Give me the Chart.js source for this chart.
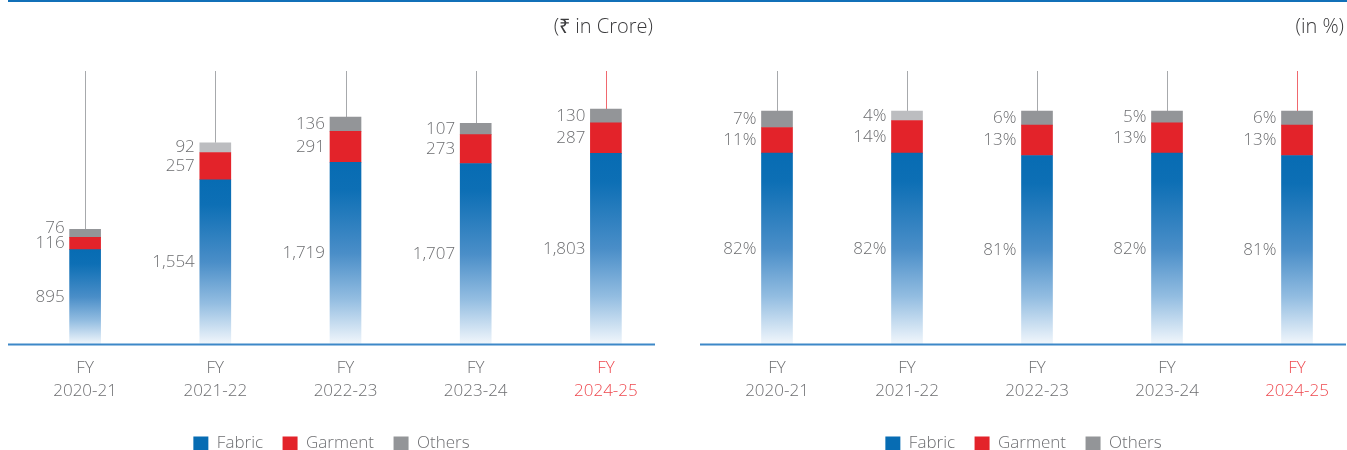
<!DOCTYPE html>
<html>
<head>
<meta charset="utf-8">
<script src="https://cdn.jsdelivr.net/npm/chart.js@4.4.1/dist/chart.umd.min.js"></script>
<style>
  html, body { margin: 0; padding: 0; width: 1347px; height: 450px; overflow: hidden; background: #fff; }
  .topline { position: absolute; left: 8px; right: 0; top: 0; height: 2px; background: #1170b8; }
  .box { position: absolute; top: 0; }
  #left { left: -8px; }
  #right { left: 685px; }
</style>
</head>
<body>
<div class="topline"></div>
<div class="box" id="left"><canvas id="chartValue" width="679" height="462"></canvas></div>
<div class="box" id="right"><canvas id="chartShare" width="677" height="462"></canvas></div>
<script>
const years = [['FY', '2020-21'], ['FY', '2021-22'], ['FY', '2022-23'], ['FY', '2023-24'], ['FY', '2024-25']];
const seriesNames = ['Fabric', 'Garment', 'Others'];

// ₹ in Crore
const fabricValue = [895, 1554, 1719, 1707, 1803];
const garmentValue = [116, 257, 291, 273, 287];
const othersValue = [76, 92, 136, 107, 130];

// in %
const fabricShare = [82, 82, 81, 82, 81];
const garmentShare = [11, 14, 13, 13, 13];
const othersShare = [7, 4, 6, 5, 6];

const grey = '#6d6e71';
const red = '#ee4a50';
const seriesColors = ['#076cb3', '#e3232a', '#939598'];
const othersColors = ['#939598', '#bcbdc0', '#939598', '#939598', '#939598'];

Chart.defaults.font.family = "'Open Sans', sans-serif";
Chart.defaults.font.weight = '300';

function fabricFill(ctx) {
    const chart = ctx.chart;
    const y = chart.scales.y;
    if (ctx.type !== 'data' || !chart.chartArea || !y) return seriesColors[0];
    const top = y.getPixelForValue(ctx.raw);
    const bottom = y.getPixelForValue(0);
    const g = chart.ctx.createLinearGradient(0, top, 0, bottom);
    g.addColorStop(0, '#076cb3');
    g.addColorStop(0.15, '#0d6fb5');
    g.addColorStop(0.5, '#4a8ec8');
    g.addColorStop(0.75, '#93bde1');
    g.addColorStop(1, '#f2f7fc');
    return g;
}

const barDecor = {
    id: 'barDecor',
    beforeDatasetsDraw(chart) {
        const { ctx, chartArea } = chart;
        const last = chart.getDatasetMeta(chart.data.datasets.length - 1);
        ctx.save();
        ctx.lineWidth = 1;
        last.data.forEach(function (bar, i) {
            ctx.strokeStyle = i === years.length - 1 ? '#f0686e' : '#a7a9ac';
            const x = Math.round(bar.x) + 0.5;
            ctx.beginPath();
            ctx.moveTo(x, chartArea.top);
            ctx.lineTo(x, bar.y);
            ctx.stroke();
        });
        ctx.restore();
    },
    afterDatasetsDraw(chart, args, opts) {
        const { ctx, chartArea } = chart;
        ctx.save();
        // baseline
        ctx.strokeStyle = '#3d88c8';
        ctx.lineWidth = 2;
        ctx.beginPath();
        ctx.moveTo(chartArea.left - 12, chartArea.bottom);
        ctx.lineTo(chartArea.right - 16, chartArea.bottom);
        ctx.stroke();

        // value labels, left of each segment
        ctx.font = '300 17px "Open Sans", sans-serif';
        ctx.fillStyle = grey;
        ctx.textAlign = 'right';
        ctx.textBaseline = 'middle';
        for (let i = 0; i < chart.data.labels.length; i++) {
            let prevY = Infinity;
            chart.data.datasets.forEach(function (ds, d) {
                const bar = chart.getDatasetMeta(d).data[i];
                let y = (bar.y + bar.base) / 2;
                y = Math.min(y, prevY - 15);
                prevY = y;
                const text = ds.data[i].toLocaleString('en-US') + opts.suffix;
                ctx.fillText(text, bar.x - bar.width / 2 - 5, y);
            });
        }

        // unit title
        ctx.font = '300 20px "Open Sans", sans-serif';
        ctx.fillStyle = '#3a3a3c';
        ctx.fillText(opts.title, chartArea.right - 18, 27);
        ctx.restore();
    }
};

function makeChart(id, fabric, garment, others, yMax, axisWidth, title, suffix) {
    const ctx = document.getElementById(id);
    return new Chart(ctx, {
        type: 'bar',
        data: {
            labels: years,
            datasets: [
                { label: seriesNames[0], data: fabric, backgroundColor: fabricFill },
                { label: seriesNames[1], data: garment, backgroundColor: seriesColors[1] },
                {
                    label: seriesNames[2], data: others,
                    backgroundColor: function (c) { return c.type === 'data' ? othersColors[c.dataIndex] : seriesColors[2]; }
                }
            ]
        },
        options: {
            responsive: false,
            animation: false,
            layout: { padding: { top: 71, left: 0, right: 0, bottom: 0 } },
            datasets: { bar: { barThickness: 31, borderWidth: 0 } },
            scales: {
                x: {
                    stacked: true,
                    grid: { display: false, drawTicks: false },
                    border: { display: false },
                    ticks: {
                        padding: 12.5,
                        maxRotation: 0,
                        font: { size: 17, lineHeight: 1.353 },
                        color: function (c) { return c.index === years.length - 1 ? red : grey; }
                    }
                },
                y: {
                    stacked: true,
                    min: 0,
                    max: yMax,
                    grid: { display: false, drawTicks: false },
                    border: { display: false },
                    ticks: { display: false },
                    afterFit: function (scale) { scale.width = axisWidth; }
                }
            },
            plugins: {
                legend: {
                    position: 'bottom',
                    labels: {
                        boxWidth: 15,
                        boxHeight: 14,
                        padding: 19.5,
                        color: grey,
                        font: { size: 17 },
                        generateLabels: function (chart) {
                            const items = Chart.defaults.plugins.legend.labels.generateLabels(chart);
                            items.forEach(function (item, i) {
                                item.fillStyle = seriesColors[i];
                                item.lineWidth = 0;
                            });
                            return items;
                        }
                    }
                },
                tooltip: { enabled: false },
                barDecor: { title: title, suffix: suffix }
            }
        },
        plugins: [barDecor]
    });
}

makeChart('chartValue', fabricValue, garmentValue, othersValue, 2580, 28, '(₹ in Crore)', '');
makeChart('chartShare', fabricShare, garmentShare, othersShare, 117.2, 27, '(in %)', '%');
</script>
</body>
</html>
